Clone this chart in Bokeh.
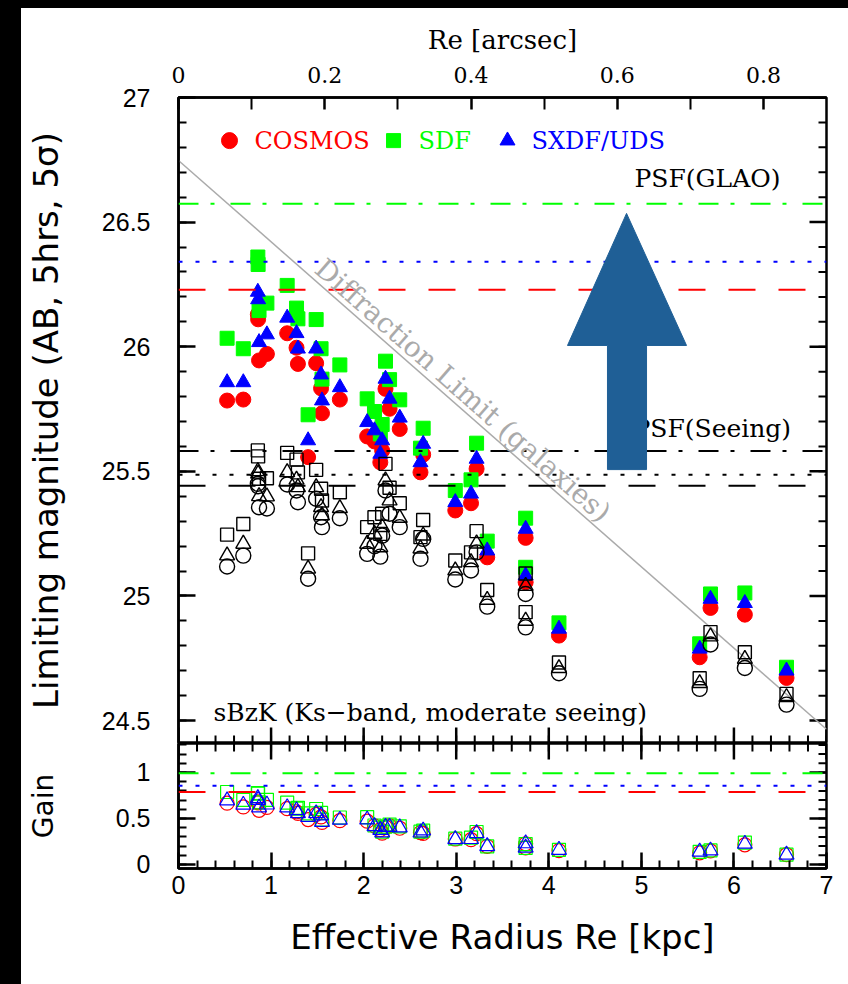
import math
from bokeh.plotting import figure
from bokeh.layouts import column, row
from bokeh.models import (Range1d, LinearAxis, FixedTicker, PrintfTickFormatter, Span, Label, Div)
from bokeh.embed import file_html
from bokeh.resources import INLINE

# ---------------- data ----------------
re_kpc = [0.525, 0.70, 0.857, 0.86, 0.87, 0.955, 1.174, 1.275, 1.29, 1.40, 1.487, 1.54, 1.55, 1.743,
          2.038, 2.117, 2.18, 2.20, 2.236, 2.28, 2.39, 2.614, 2.643, 2.99, 3.16, 3.22, 3.335, 3.75,
          3.75, 4.11, 5.63, 5.747, 6.118, 6.568]
# GLAO limiting magnitudes (filled symbols)
cosmos_glao = [25.784, 25.788, 26.13, 26.11, 25.945, 25.971, 26.054, 25.996, 25.931, 25.557, 25.934, 25.833,
               25.733, 25.788, 25.640, 25.62, 25.536, 25.583, 25.831, 25.751, 25.670, 25.496, 25.567, 25.343,
               25.372, 25.51, 25.155, 25.233, 25.055, 24.841, 24.754, 24.952, 24.925, 24.671]
sdf_glao = [26.034, 25.992, 26.36, 26.33, 26.145, 26.175, 26.246, 26.155, 26.112, 25.727, 26.109, 25.992,
            25.87, 25.927, 25.791, 25.74, 25.65, 25.688, 25.942, 25.868, 25.787, 25.593, 25.673, 25.423,
            25.466, 25.613, 25.22, 25.312, 25.115, 24.892, 24.808, 25.008, 25.012, 24.714]
sxdf_glao = [25.857, 25.857, 26.22, 26.19, 26.018, 26.049, 26.116, 26.054, 25.992, 25.624, 25.992, 25.888,
             25.784, 25.837, 25.697, 25.664, 25.57, 25.624, 25.871, 25.791, 25.715, 25.536, 25.61, 25.376,
             25.410, 25.55, 25.182, 25.269, 25.082, 24.868, 24.788, 24.988, 24.971, 24.70]
# seeing-limited magnitudes (open black symbols)
cosmos_seeing = [25.118, 25.162, 25.45, 25.44, 25.356, 25.351, 25.447, 25.423, 25.376, 25.069, 25.39, 25.316,
                 25.276, 25.312, 25.169, 25.20, 25.158, 25.242, 25.423, 25.33, 25.276, 25.149, 25.229, 25.066,
                 25.102, 25.175, 24.957, 25.008, 24.874, 24.69, 24.627, 24.805, 24.711, 24.564]
sdf_seeing = [25.246, 25.289, 25.584, 25.56, 25.47, 25.472, 25.574, 25.547, 25.496, 25.171, 25.506, 25.43,
              25.383, 25.416, 25.276, 25.316, 25.249, 25.33, 25.53, 25.434, 25.372, 25.236, 25.305, 25.142,
              25.175, 25.26, 25.024, 25.09, 24.935, 24.733, 24.67, 24.855, 24.774, 24.607]
sxdf_seeing = [25.162, 25.209, 25.50, 25.49, 25.40, 25.399, 25.496, 25.466, 25.436, 25.109, 25.436, 25.356,
               25.323, 25.352, 25.209, 25.249, 25.195, 25.276, 25.463, 25.383, 25.313, 25.19, 25.242, 25.102,
               25.135, 25.21, 24.984, 25.04, 24.90, 24.71, 24.65, 24.837, 24.747, 24.594]

# point-source (PSF) limits: COSMOS, SDF, SXDF/UDS
fields = ["COSMOS", "SDF", "SXDF/UDS"]
field_colors = ["#ff0000", "#00ff00", "#0000ff"]
psf_glao = [26.229, 26.574, 26.341]
psf_seeing = [25.442, 25.582, 25.486]
psf_dash = ["27 23", "20 12 4 16", "4 13"]

# diffraction-limit line (galaxies)
diff_x = [0.0, 7.0]
diff_y = [26.747, 24.465]

kpc_per_arcsec = 7.9

# gain = GLAO limit - seeing limit
gain_cosmos = [a - b for a, b in zip(cosmos_glao, cosmos_seeing)]
gain_sdf = [a - b for a, b in zip(sdf_glao, sdf_seeing)]
gain_sxdf = [a - b for a, b in zip(sxdf_glao, sxdf_seeing)]
gain_psf = [a - b for a, b in zip(psf_glao, psf_seeing)]

# tick positions
kpc_major = list(range(8))
kpc_minor = [round(0.2 * i, 1) for i in range(36)]
mag_major = [24.5, 25.0, 25.5, 26.0, 26.5, 27.0]
mag_minor = [round(24.5 + 0.1 * i, 1) for i in range(26)]
gain_major = [0, 0.5, 1.0]
gain_minor = [round(0.1 * i, 1) for i in range(14)]
arc_major = [0, 0.2, 0.4, 0.6, 0.8]
arc_minor = [0.1, 0.3, 0.5, 0.7]

SERIF = "DejaVu Serif"
SANS = "DejaVu Sans"
TICKF = "Liberation Sans"

FW, FH_MAIN, FH_GAIN = 648, 646, 125
X0, X1 = 0.0, 7.0
M0, M1 = 24.408, 27.0
G0, G1 = -0.0435, 1.315
LEFT_STRIP = 21
BORDER_L = 157
BORDER_R = 848 - LEFT_STRIP - BORDER_L - FW


def style_axis(ax, major_in, minor_in, font=TICKF, size="25px", standoff=10):
    ax.axis_line_width = 2.5
    ax.axis_line_color = "black"
    ax.major_tick_line_width = 2.5
    ax.minor_tick_line_width = 2
    ax.major_tick_line_color = "black"
    ax.minor_tick_line_color = "black"
    ax.major_tick_in = major_in
    ax.major_tick_out = 0
    ax.minor_tick_in = minor_in
    ax.minor_tick_out = 0
    ax.major_label_text_font = font
    ax.major_label_text_font_size = size
    ax.major_label_text_color = "black"
    ax.major_label_standoff = standoff
    ax.axis_label_text_color = "black"
    ax.axis_label_text_font_style = "normal"


def edge_ticks(fig, positions, edge, length_px, width, side, fh):
    """inward tick marks drawn as segments along an unlabeled frame edge"""
    n = len(positions)
    if side in ("bottom", "top"):
        dy = length_px * (fig.y_range.end - fig.y_range.start) / fh
        y1 = edge + dy if side == "bottom" else edge - dy
        fig.segment(x0=positions, y0=[edge] * n, x1=positions, y1=[y1] * n,
                    line_color="black", line_width=width)
    else:
        dx = length_px * (X1 - X0) / FW
        fig.segment(x0=[edge] * n, y0=positions, x1=[edge - dx] * n, y1=positions,
                    line_color="black", line_width=width)


fmt = PrintfTickFormatter(format="%g")
xr = Range1d(X0, X1)

# ---------------- main panel ----------------
p = figure(frame_width=FW, frame_height=FH_MAIN, x_range=xr, y_range=Range1d(M0, M1),
           output_backend="svg", toolbar_location=None, x_axis_location=None,
           min_border_left=BORDER_L, min_border_right=BORDER_R, min_border_top=89, min_border_bottom=0)
p.background_fill_color = "white"
p.border_fill_color = "white"
p.outline_line_color = "black"
p.outline_line_width = 2.5
p.xgrid.visible = False
p.ygrid.visible = False

p.yaxis.ticker = FixedTicker(ticks=mag_major, minor_ticks=mag_minor)
p.yaxis.formatter = fmt
style_axis(p.yaxis[0], 17, 8, standoff=28)
p.yaxis.axis_label = "Limiting magnitude (AB, 5hrs, 5σ)"
p.yaxis.axis_label_text_font = SANS
p.yaxis.axis_label_text_font_size = "34px"
p.yaxis.axis_label_standoff = 33

p.extra_x_ranges = {"arc": Range1d(0, (X1 - X0) / kpc_per_arcsec)}
top = LinearAxis(x_range_name="arc", ticker=FixedTicker(ticks=arc_major, minor_ticks=arc_minor),
                 formatter=fmt)
style_axis(top, 12, 12, font=SERIF, size="22px", standoff=15)
top.axis_label = "Re [arcsec]"
top.axis_label_text_font = SERIF
top.axis_label_text_font_size = "26px"
top.axis_label_standoff = 9
p.add_layout(top, "above")

edge_ticks(p, kpc_minor, M0, 8, 2, "bottom", FH_MAIN)
edge_ticks(p, kpc_major, M0, 16, 2.5, "bottom", FH_MAIN)
edge_ticks(p, mag_minor, X1, 8, 2, "right", FH_MAIN)
edge_ticks(p, mag_major, X1, 17, 2.5, "right", FH_MAIN)

# horizontal PSF limit lines
for lvl, col, dash in zip(psf_glao, field_colors, psf_dash):
    p.add_layout(Span(location=lvl, dimension="width", line_color=col, line_dash=dash, line_width=2))
for lvl, dash in zip(psf_seeing, psf_dash):
    p.add_layout(Span(location=lvl, dimension="width", line_color="black", line_dash=dash, line_width=2))

# diffraction line
p.line(diff_x, diff_y, line_color="#aaaaaa", line_width=1.5)
ang = math.atan2((diff_y[1] - diff_y[0]) * FH_MAIN / (M1 - M0), (diff_x[1] - diff_x[0]) * FW / (X1 - X0))
p.add_layout(Label(x=1.52, y=26.33, text="Diffraction Limit (galaxies)", angle=ang,
                   text_font=SERIF, text_font_size="28px", text_color="#aaaaaa",
                   text_align="left", text_baseline="alphabetic"))

# filled GLAO symbols
p.scatter(re_kpc, cosmos_glao, marker="circle", size=15, fill_color="#ff0000", line_color="#ff0000")
p.scatter(re_kpc, sdf_glao, marker="square", size=14, fill_color="#00ff00", line_color="#00ff00")
p.scatter(re_kpc, sxdf_glao, marker="triangle", size=15, fill_color="#0000ff", line_color="#0000ff")
# open seeing symbols
p.scatter(re_kpc, cosmos_seeing, marker="circle", size=15, fill_color=None, line_color="black", line_width=1.4)
p.scatter(re_kpc, sdf_seeing, marker="square", size=13, fill_color=None, line_color="black", line_width=1.4)
p.scatter(re_kpc, sxdf_seeing, marker="triangle", size=15, fill_color=None, line_color="black", line_width=1.4)

# texts
p.add_layout(Label(x=4.926, y=26.675, text="PSF(GLAO)", text_font=SERIF, text_font_size="25px",
                   text_color="black", text_align="left", text_baseline="middle"))
p.add_layout(Label(x=4.915, y=25.672, text="PSF(Seeing)", text_font=SERIF, text_font_size="25px",
                   text_color="black", text_align="left", text_baseline="middle"))
p.add_layout(Label(x=0.378, y=24.532, text="sBzK (Ks\u2212band, moderate seeing)", text_font=SERIF,
                   text_font_size="25px", text_color="black", text_align="left", text_baseline="middle"))

# big arrow (drawn above the texts)
arrow_x = [4.634, 4.634, 4.202, 4.840, 5.488, 5.056, 5.056]
arrow_y = [25.507, 26.005, 26.005, 26.535, 26.005, 26.005, 25.507]
arrow = p.patch(arrow_x, arrow_y, fill_color="#1f5f96", line_color="#1f5f96")
arrow.level = "overlay"

# legend
leg_y = 26.827
leg_sym_x = [0.551, 2.323, 3.554]
leg_txt_x = [0.821, 2.593, 3.813]
leg_markers = ["circle", "square", "triangle"]
leg_sizes = [16, 14, 15]
for sx, tx, mk, sz, col, name in zip(leg_sym_x, leg_txt_x, leg_markers, leg_sizes, field_colors, fields):
    p.scatter([sx], [leg_y], marker=mk, size=sz, fill_color=col, line_color=col)
    p.add_layout(Label(x=tx, y=leg_y, text=name, text_font=SERIF, text_font_size="24px",
                       text_color=col, text_align="left", text_baseline="middle"))

# ---------------- gain panel ----------------
g = figure(frame_width=FW, frame_height=FH_GAIN, x_range=xr, y_range=Range1d(G0, G1),
           output_backend="svg", toolbar_location=None,
           min_border_left=BORDER_L, min_border_right=BORDER_R, min_border_top=0, min_border_bottom=100)
g.background_fill_color = "white"
g.border_fill_color = "white"
g.outline_line_color = "black"
g.outline_line_width = 2.5
g.xgrid.visible = False
g.ygrid.visible = False

g.xaxis.ticker = FixedTicker(ticks=kpc_major, minor_ticks=kpc_minor)
g.xaxis.formatter = fmt
style_axis(g.xaxis[0], 16, 8, standoff=7)
g.xaxis.axis_label = "Effective Radius Re [kpc]"
g.xaxis.axis_label_text_font = SANS
g.xaxis.axis_label_text_font_size = "34px"
g.xaxis.axis_label_standoff = 20

g.yaxis.ticker = FixedTicker(ticks=gain_major, minor_ticks=gain_minor)
g.yaxis.formatter = fmt
style_axis(g.yaxis[0], 17, 8, standoff=28)
g.yaxis.axis_label = "Gain"
g.yaxis.axis_label_text_font = SANS
g.yaxis.axis_label_text_font_size = "28px"
g.yaxis.axis_label_standoff = 53

edge_ticks(g, kpc_minor, G1, 8, 2, "top", FH_GAIN)
edge_ticks(g, kpc_major, G1, 16, 2.5, "top", FH_GAIN)
edge_ticks(g, gain_minor, X1, 8, 2, "right", FH_GAIN)
edge_ticks(g, gain_major, X1, 17, 2.5, "right", FH_GAIN)

for lvl, col, dash in zip(gain_psf, field_colors, psf_dash):
    g.add_layout(Span(location=lvl, dimension="width", line_color=col, line_dash=dash, line_width=2))

g.scatter(re_kpc, gain_cosmos, marker="circle", size=14, fill_color=None, line_color="#ff0000", line_width=1.2)
g.scatter(re_kpc, gain_sdf, marker="square", size=13, fill_color=None, line_color="#00ff00", line_width=1.2)
g.scatter(re_kpc, gain_sxdf, marker="triangle", size=15, fill_color=None, line_color="#0000ff", line_width=1.2)

black = {"background-color": "black"}
top_strip = Div(text="", width=848, height=8, margin=0, styles=black)
left_strip = Div(text="", width=LEFT_STRIP, height=976, margin=0, styles=black)
layout = column(top_strip, row(left_strip, column(p, g, spacing=0), spacing=0), spacing=0)

open("out.html", "w").write(file_html(layout, INLINE))
